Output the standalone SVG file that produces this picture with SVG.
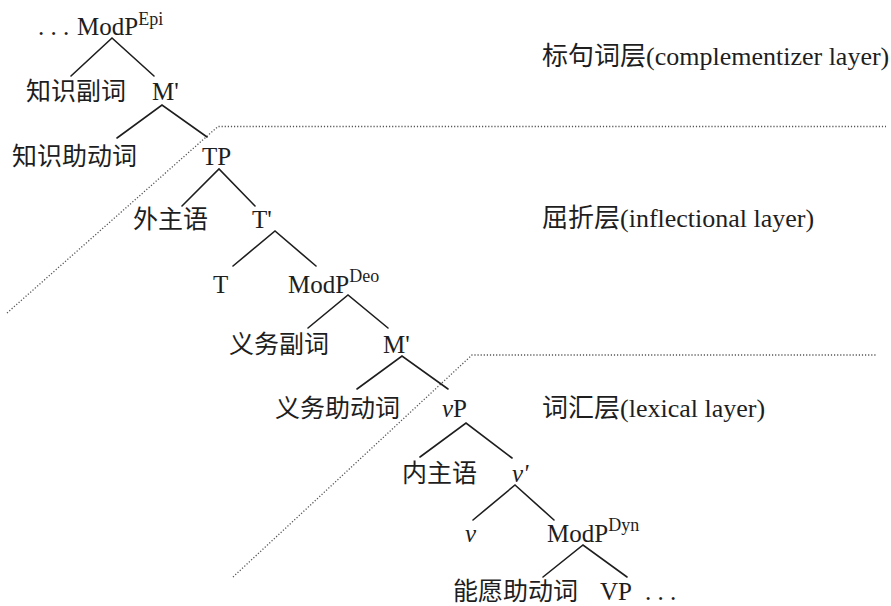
<svg xmlns="http://www.w3.org/2000/svg" width="891" height="606" viewBox="0 0 891 606">
<defs>
<style>
text{font-family:"Liberation Serif","Noto Sans CJK SC",serif;font-size:25px;fill:#1e1e1e}
.lbl{font-size:26px}
.it{font-style:italic}
.sup{font-size:18px}
.edge{stroke:#1e1e1e;stroke-width:1.6;fill:none;stroke-linecap:round}
.layer{stroke:#555;stroke-width:1.3;fill:none;stroke-dasharray:1.2 1.9}
</style>
</defs>
<rect width="891" height="606" fill="#fff"/>
<g id="layer-boundaries">
<polyline class="layer" points="7,313 218,126.5 886,126.5"/>
<polyline class="layer" points="233,577 472,355 876,355"/>
</g>
<g id="connectors">
<path class="edge" d="M71,76 L112,38 L154,76"/>
<path class="edge" d="M117,138 L162,105 L207,137"/>
<path class="edge" d="M182,206 L219,169 L255,206"/>
<path class="edge" d="M233,266 L275,231 L316,266"/>
<path class="edge" d="M308,328 L348,295 L388,328"/>
<path class="edge" d="M357,389 L402,356 L448,389"/>
<path class="edge" d="M420,457 L466,423 L512,458"/>
<path class="edge" d="M473,520 L515,485 L554,520"/>
<path class="edge" d="M543,577 L583,545 L627,577"/>
</g>
<g id="n-modp-epi"><text x="38" y="35">. . .</text><text x="77" y="35">ModP<tspan class="sup" dy="-10">Epi</tspan></text></g>
<g id="n-epi-adv"><text x="26" y="100">知识副词</text></g>
<g id="n-m1"><text x="152" y="100">M'</text></g>
<g id="n-epi-aux"><text x="12" y="165">知识助动词</text></g>
<g id="n-tp"><text x="202" y="165">TP</text></g>
<g id="n-outer-subj"><text x="133" y="228">外主语</text></g>
<g id="n-tbar"><text x="252" y="228">T'</text></g>
<g id="n-t"><text x="213" y="293">T</text></g>
<g id="n-modp-deo"><text x="288" y="293">ModP<tspan class="sup" dy="-11">Deo</tspan></text></g>
<g id="n-deo-adv"><text x="229" y="353">义务副词</text></g>
<g id="n-m2"><text x="383" y="353">M'</text></g>
<g id="n-deo-aux"><text x="275" y="417">义务助动词</text></g>
<g id="n-vp"><text x="442" y="417"><tspan class="it">v</tspan>P</text></g>
<g id="n-inner-subj"><text x="402" y="482">内主语</text></g>
<g id="n-vbar"><text x="512" y="482" class="it">v'</text></g>
<g id="n-v"><text x="465" y="542" class="it">v</text></g>
<g id="n-modp-dyn"><text x="547" y="542">ModP<tspan class="sup" dy="-11">Dyn</tspan></text></g>
<g id="n-dyn-aux"><text x="453" y="600">能愿助动词</text></g>
<g id="n-vp2"><text x="600" y="600">VP</text><text x="645" y="600">. . .</text></g>
<g id="lbl-comp"><text class="lbl" x="542" y="65">标句词层(complementizer layer)</text></g>
<g id="lbl-infl"><text class="lbl" x="542" y="227">屈折层(inflectional layer)</text></g>
<g id="lbl-lex"><text class="lbl" x="542" y="417">词汇层(lexical layer)</text></g>
</svg>
